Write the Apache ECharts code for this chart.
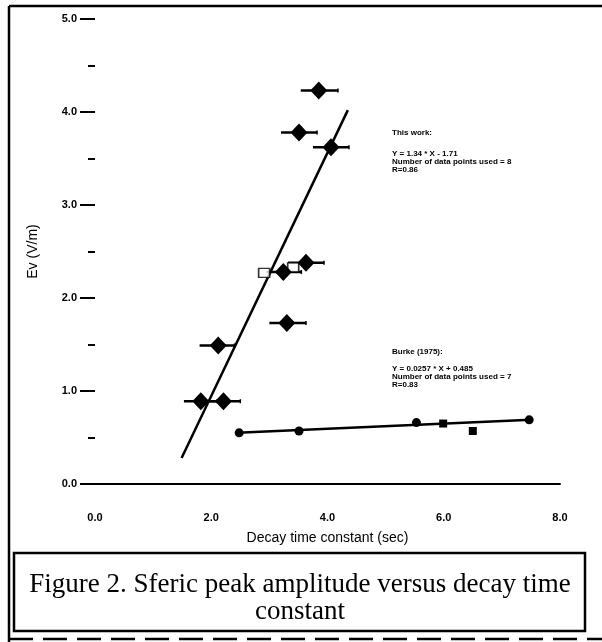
<!DOCTYPE html>
<html>
<head>
<meta charset="utf-8">
<script src="https://cdn.jsdelivr.net/npm/echarts@6/dist/echarts.min.js"></script>
<style>
html,body{margin:0;padding:0;background:#fff;}
#c{width:602px;height:642px;}
</style>
</head>
<body>
<div id="c"></div>
<script>
// ---- data ----
var yTickLabels = ['0.0', '1.0', '2.0', '3.0', '4.0', '5.0'];
var xTickLabels = ['0.0', '2.0', '4.0', '6.0', '8.0'];

// "This work" points: [decay time (s), Ev (V/m)]
var thisWorkPoints = [
  [3.85, 4.23], [3.51, 3.78], [4.06, 3.62], [3.63, 2.38], [3.24, 2.28],
  [3.30, 1.73], [2.12, 1.49], [1.82, 0.89], [2.21, 0.89]
];
// horizontal error bars: [xLow, xHigh, y]
var thisWorkErrors = [
  [3.54, 4.18, 4.23], [3.20, 3.82, 3.78], [3.75, 4.37, 3.62], [3.32, 3.94, 2.38],
  [2.95, 3.55, 2.28], [3.00, 3.63, 1.73], [1.80, 2.40, 1.49], [1.53, 2.10, 0.89],
  [1.92, 2.50, 0.89]
];
var openSquares = [[2.91, 2.27], [3.41, 2.33]];
// fitted line Y = 1.34*X - 1.71 (end points as drawn)
var thisWorkFit = [[1.49, 0.28], [4.35, 4.02]];

// Burke (1975)
var burkePoints = [[2.48, 0.55], [3.51, 0.57], [5.53, 0.66], [7.47, 0.69]];
var burkeSquares = [[5.99, 0.65], [6.50, 0.57]];
var burkeFit = [[2.45, 0.55], [7.50, 0.69]];

var thisWorkText = ['This work:', 'Y = 1.34 * X - 1.71', 'Number of data points used = 8', 'R=0.86'];
var burkeText = ['Burke (1975):', 'Y = 0.0257 * X + 0.485', 'Number of data points used = 7', 'R=0.83'];
var captionLines = ['Figure 2. Sferic peak amplitude versus decay time', 'constant'];

var chart = echarts.init(document.getElementById('c'));
var small = {fontFamily: 'Liberation Sans', fontWeight: 'bold', fontSize: 8, fill: '#000'};

function textBlock(lines, x, ys) {
  return lines.map(function (t, i) {
    return {type: 'text', left: x, top: ys[i], style: Object.assign({text: t}, small)};
  });
}

var capStyle = {fontFamily: 'Liberation Serif', fontSize: 27, fill: '#000', align: 'center', verticalAlign: 'middle'};
var graphics = [
  // outer frame
  {type: 'line', shape: {x1: 9, y1: 6, x2: 602, y2: 6}, style: {stroke: '#000', lineWidth: 2.5}},
  {type: 'line', shape: {x1: 9, y1: 6, x2: 9, y2: 642}, style: {stroke: '#000', lineWidth: 2.5}},
  {type: 'line', shape: {x1: 9, y1: 639, x2: 602, y2: 639}, style: {stroke: '#000', lineWidth: 2.5, lineDash: [24, 10]}},
  // caption box
  {type: 'rect', shape: {x: 14, y: 553, width: 571, height: 78}, style: {fill: 'none', stroke: '#000', lineWidth: 2.5}},
  {type: 'text', x: 300, y: 585, style: Object.assign({text: captionLines[0]}, capStyle)},
  {type: 'text', x: 300, y: 612, style: Object.assign({text: captionLines[1]}, capStyle)}
].concat(textBlock(thisWorkText, 392, [129, 150, 158, 166]))
 .concat(textBlock(burkeText, 392, [348, 365, 373, 381]));

chart.setOption({
  animation: false,
  backgroundColor: '#fff',
  grid: {left: 95, right: 42, top: 19, bottom: 158},
  xAxis: {
    type: 'value', min: 0, max: 8, interval: 2,
    name: 'Decay time constant (sec)', nameLocation: 'middle', nameGap: 47,
    nameTextStyle: {fontFamily: 'Liberation Sans', fontSize: 14, color: '#000'},
    axisLine: {show: true, onZero: false, lineStyle: {color: '#000', width: 2}},
    axisTick: {show: false},
    splitLine: {show: false},
    axisLabel: {
      margin: 28, fontFamily: 'Liberation Sans', fontWeight: 'bold', fontSize: 11, color: '#000',
      formatter: function (v) { return xTickLabels[Math.round(v / 2)]; }
    }
  },
  yAxis: {
    type: 'value', min: 0, max: 5, interval: 1,
    name: 'Ev (V/m)', nameLocation: 'middle', nameGap: 55, nameRotate: 90,
    nameTextStyle: {fontFamily: 'Liberation Sans', fontSize: 14, color: '#000'},
    axisLine: {show: false},
    axisTick: {show: true, length: 15, lineStyle: {color: '#000', width: 2}},
    minorTick: {show: true, splitNumber: 2, length: 7, lineStyle: {color: '#000', width: 2}},
    splitLine: {show: false},
    axisLabel: {
      margin: 18, fontFamily: 'Liberation Sans', fontWeight: 'bold', fontSize: 11, color: '#000',
      formatter: function (v) { return yTickLabels[Math.round(v)]; }
    }
  },
  graphic: graphics,
  series: [
    {
      type: 'line', data: thisWorkFit, symbol: 'none',
      lineStyle: {color: '#000', width: 2.5}, z: 3
    },
    {
      type: 'line', data: burkeFit, symbol: 'none',
      lineStyle: {color: '#000', width: 2.5}, z: 3
    },
    {
      type: 'custom', data: thisWorkErrors, z: 4,
      renderItem: function (params, api) {
        var a = api.coord([api.value(0), api.value(2)]);
        var b = api.coord([api.value(1), api.value(2)]);
        return {
          type: 'group', children: [
            {type: 'line', shape: {x1: a[0], y1: a[1], x2: b[0], y2: b[1]}, style: {stroke: '#000', lineWidth: 2.5}},
            {type: 'line', shape: {x1: b[0], y1: b[1] - 2, x2: b[0], y2: b[1] + 2}, style: {stroke: '#000', lineWidth: 1.5}}
          ]
        };
      }
    },
    {
      type: 'scatter', data: openSquares, symbol: 'rect', symbolSize: [11, 9], z: 5,
      itemStyle: {color: '#fff', borderColor: '#000', borderWidth: 1.5}
    },
    {
      type: 'scatter', data: thisWorkPoints, symbol: 'diamond', symbolSize: [17, 18], z: 6,
      itemStyle: {color: '#000', opacity: 1}
    },
    {
      type: 'scatter', data: burkePoints, symbol: 'circle', symbolSize: 9, z: 6,
      itemStyle: {color: '#000', opacity: 1}
    },
    {
      type: 'scatter', data: burkeSquares, symbol: 'rect', symbolSize: 8, z: 6,
      itemStyle: {color: '#000', opacity: 1}
    }
  ]
});
</script>
</body>
</html>
